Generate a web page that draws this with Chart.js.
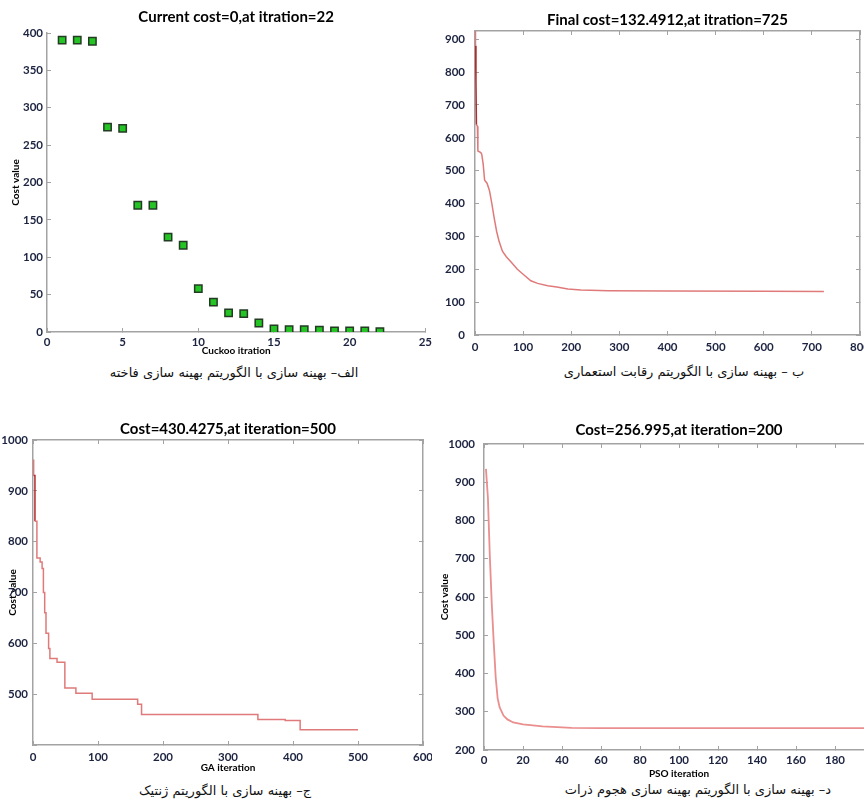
<!DOCTYPE html>
<html>
<head>
<meta charset="utf-8">
<script src="https://cdn.jsdelivr.net/npm/chart.js@4.4.1/dist/chart.umd.min.js"></script>
<style>
  body { margin: 0; background: #fff; }
  #wrap { position: relative; width: 864px; height: 800px; overflow: hidden; background: #fff; }
  canvas { position: absolute; }
  .cap { position: absolute; width: 400px; text-align: center; direction: rtl;
         font-family: "DejaVu Sans", sans-serif; font-size: 13px; color: #111; line-height: 18px; }
</style>
</head>
<body>
<div id="wrap">
  <canvas id="cuckoo" width="432" height="362" style="left:0;top:0"></canvas>
  <canvas id="ica" width="432" height="360" style="left:432px;top:0"></canvas>
  <canvas id="ga" width="432" height="360" style="left:0;top:415px"></canvas>
  <canvas id="pso" width="460" height="365" style="left:432px;top:415px"></canvas>
  <div class="cap" style="left:34px;top:364px">الف– بهینه سازی با الگوریتم بهینه سازی فاخته</div>
  <div class="cap" style="left:484px;top:363px">ب – بهینه سازی با الگوریتم رقابت استعماری</div>
  <div class="cap" style="left:25px;top:782px">ج– بهینه سازی با الگوریتم ژنتیک</div>
  <div class="cap" style="left:498px;top:781px">د– بهینه سازی با الگوریتم بهینه سازی هجوم ذرات</div>
</div>
<script>
// cuckoo search: best cost per iteration
const cuckooIter = [1, 2, 3, 4, 5, 6, 7, 8, 9, 10, 11, 12, 13, 14, 15, 16, 17, 18, 19, 20, 21, 22];
const cuckooCost = [390.5, 390.5, 389, 274, 272.5, 169.5, 169.5, 127, 116, 58, 40, 25.5, 24.5, 12, 4, 3, 3, 2.5, 1.5, 1.5, 1.5, 0.5];

// imperialist competitive algorithm
const icaIter = [0, 1, 2, 3, 5, 6, 12, 14, 17, 20, 25, 30, 35, 40, 45, 50, 57, 65, 75, 88, 100, 116, 130, 151, 170, 193, 220, 277, 400, 600, 725];
const icaCost = [925, 880, 770, 640, 635, 560, 555, 550, 520, 471, 462, 440, 400, 355, 315, 285, 255, 238, 222, 200, 185, 165, 157, 150, 146, 140, 137, 135, 134, 133, 132.5];

// genetic algorithm (change points of best cost)
const gaIter = [0, 1, 3, 6, 11, 14, 16, 18, 20, 24, 26, 37, 49, 66, 91, 161, 167, 346, 388, 411, 500];
const gaCost = [960, 930, 840, 768, 760, 747, 700, 660, 620, 590, 570, 563, 512, 502, 490, 480, 460, 450, 448, 430, 430];

// particle swarm
const psoIter = [1, 2, 3, 4, 5, 6, 7, 8, 10, 12, 15, 20, 30, 45, 60, 100, 200];
const psoCost = [935, 860, 705, 580, 480, 390, 335, 312, 290, 280, 272, 267, 262, 258, 257, 257, 257];

const titles = [
    'Current cost=0,at itration=22',
    'Final cost=132.4912,at itration=725',
    'Cost=430.4275,at iteration=500',
    'Cost=256.995,at iteration=200'
];

const axisGray = '#a3a3a3';
const tickColor = '#1c2340';
const tickFont = { family: 'Lato', weight: 'bold', size: 11.5 };
const labelFont = { family: 'Lato', weight: 'bold', size: 10 };
const titleFont = { family: 'Lato', weight: 'bold', size: 15 };

function pts(xs, ys) {
    return xs.map((x, i) => ({ x: x, y: ys[i] }));
}

// pin axis size so the plot areas land where the reference has them
function fitTo(size) {
    return function (scale) {
        if (scale.isHorizontal()) scale.height = size; else scale.width = size;
        scale.paddingLeft = scale.paddingRight = scale.paddingTop = scale.paddingBottom = 0;
    };
}

function axis(position, min, max, step, size, pad, title, titlePad) {
    return {
        type: 'linear',
        position: position,
        min: min,
        max: max,
        border: { color: axisGray, width: 1.5 },
        grid: { drawOnChartArea: false, color: axisGray, tickLength: -4 },
        ticks: { stepSize: step, includeBounds: false, padding: pad, color: tickColor, font: tickFont,
                 maxRotation: 0, autoSkip: false, callback: v => String(v) },
        title: title ? { display: true, text: title, color: '#000', font: labelFont, padding: titlePad } : { display: false },
        afterFit: fitTo(size)
    };
}

// top/right frame axes with inward ticks, no labels
function frame(position, min, max, step) {
    return {
        type: 'linear',
        position: position,
        min: min,
        max: max,
        border: { color: axisGray, width: 1.5 },
        grid: { drawOnChartArea: false, color: axisGray, tickLength: -4 },
        ticks: { display: false, stepSize: step, includeBounds: false },
        afterFit: fitTo(0)
    };
}

function plugins(text, padTop, padBottom) {
    return {
        title: { display: true, text: text, fullSize: false, color: '#000', font: titleFont, padding: { top: padTop, bottom: padBottom } },
        legend: { display: false },
        tooltip: { enabled: false }
    };
}

new Chart(document.getElementById('cuckoo'), {
    type: 'scatter',
    data: {
        datasets: [{
            data: pts(cuckooIter, cuckooCost),
            pointStyle: 'rect',
            pointRadius: 5.2,
            backgroundColor: '#25c425',
            borderColor: '#233b23',
            borderWidth: 1.5
        }]
    },
    options: {
        responsive: false,
        animation: false,
        layout: { padding: { left: 0, right: 5, top: 0, bottom: 0 } },
        scales: {
            x: axis('bottom', 0, 25, 5, 30, 7, 'Cuckoo itration', { top: 0, bottom: 5 }),
            y: axis('left', 0, 400, 50, 47, 8, 'Cost value', { top: 10, bottom: 0 })
        },
        plugins: plugins(titles[0], 8, 7)
    }
});

new Chart(document.getElementById('ica'), {
    type: 'line',
    data: {
        datasets: [{
            data: pts(icaIter, icaCost),
            borderColor: '#e07a7a',
            borderWidth: 1.5,
            pointRadius: 0,
            segment: { borderColor: c => (c.p0DataIndex === 1 || c.p0DataIndex === 2) ? '#b22a2a' : undefined }
        }]
    },
    options: {
        responsive: false,
        animation: false,
        layout: { padding: { left: 0, right: 4, top: 0, bottom: 0 } },
        scales: {
            x: axis('bottom', 0, 800, 100, 25, 9),
            y: axis('left', 0, 925, 100, 43, 14),
            x2: frame('top', 0, 800, 100),
            y2: frame('right', 0, 925, 100)
        },
        plugins: plugins(titles[1], 11, 2)
    }
});

const gaY = axis('left', 400, 1000, 100, 33, 9, 'Cost value', { top: 7, bottom: 0 });
gaY.ticks.callback = v => (v === 400 ? '' : String(v));

new Chart(document.getElementById('ga'), {
    type: 'line',
    data: {
        datasets: [{
            data: pts(gaIter, gaCost),
            stepped: true,
            borderColor: '#e07a7a',
            borderWidth: 1.5,
            pointRadius: 0,
            segment: { borderColor: c => (c.p0DataIndex === 1) ? '#b22a2a' : undefined }
        }]
    },
    options: {
        responsive: false,
        animation: false,
        layout: { padding: { left: 0, right: 9, top: 0, bottom: 0 } },
        scales: {
            x: axis('bottom', 0, 600, 100, 30, 9, 'GA iteration', { top: 0, bottom: 1 }),
            y: gaY,
            x2: frame('top', 0, 600, 100),
            y2: frame('right', 400, 1000, 100)
        },
        plugins: plugins(titles[2], 5, 2)
    }
});

new Chart(document.getElementById('pso'), {
    type: 'line',
    data: {
        datasets: [{
            data: pts(psoIter, psoCost),
            borderColor: '#ea8e8e',
            borderWidth: 1.8,
            pointRadius: 0
        }]
    },
    options: {
        responsive: false,
        animation: false,
        layout: { padding: { left: 0, right: 18, top: 0, bottom: 0 } },
        scales: {
            x: axis('bottom', 0, 200, 20, 30, 7, 'PSO iteration', { top: 0, bottom: 0 }),
            y: axis('left', 200, 1000, 100, 52, 13, 'Cost value', { top: 7, bottom: 0 }),
            x2: frame('top', 0, 200, 20),
            y2: frame('right', 200, 1000, 100)
        },
        plugins: plugins(titles[3], 6, 5)
    }
});
</script>
</body>
</html>
